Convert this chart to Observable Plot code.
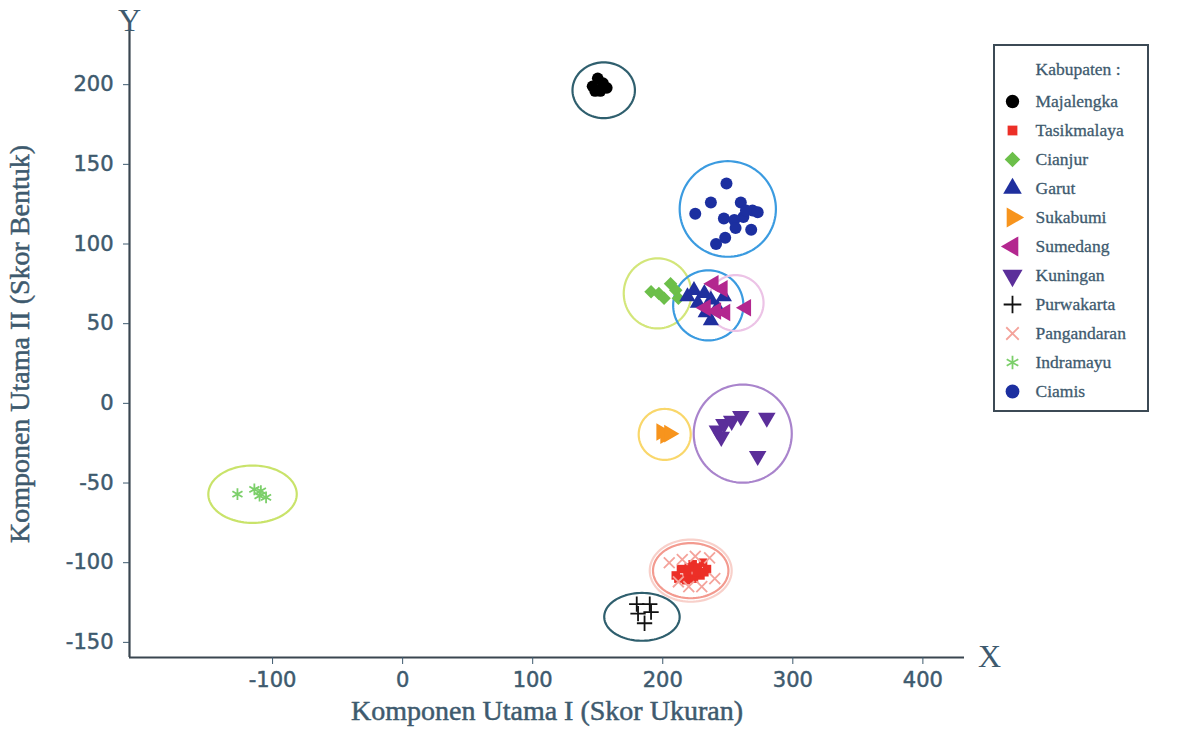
<!DOCTYPE html>
<html><head><meta charset="utf-8">
<script src="https://cdn.jsdelivr.net/npm/d3@7"></script>
<script src="https://cdn.jsdelivr.net/npm/@observablehq/plot@0.6"></script>
<style>
body{margin:0;background:#fff;}
#wrap{position:relative;width:1178px;height:742px;overflow:hidden;}
#chart{position:absolute;left:0;top:0;}
#legend{position:absolute;left:993px;top:44px;border:2px solid #3c4a55;background:#fff;line-height:0;}
</style></head><body><div id="wrap"><div id="chart"></div><div id="legend"></div></div>
<script>
// ---- categories & styles
const groups = ["Majalengka","Tasikmalaya","Cianjur","Garut","Sukabumi","Sumedang","Kuningan","Purwakarta","Pangandaran","Indramayu","Ciamis"];
const groupColors = ["#000000","#ec2f27","#6cbf4a","#1f2f9e","#f7941d","#b3278f","#5b2e9a","#111111","#f4a39b","#7ccf6a","#1c2fa0"];
const groupSymbols = ["circle","square","square","triangle","triangle","triangle","triangle","plus","times","asterisk","circle"];
const groupRotate = [0,0,45,0,90,-90,180,0,0,0,0];
const groupR = [5.8,4.8,5.4,6,6.5,6.5,6.5,5,5,5.5,6];
const strokeSymbols = ["plus","times","asterisk"];

// ---- point values (Komponen Utama I, Komponen Utama II)
const majalengkaX = [150,146,157,152,154,148];
const majalengkaY = [204,199,198,196,201,196];
const tasikmalayaX = [210,214,219,223,227,231,234,229,224,218,212,232,226,220];
const tasikmalayaY = [-108,-104,-106,-101,-103,-100,-104,-108,-110,-111,-110,-106,-106,-103];
const cianjurX = [191,197,201,206,210,212];
const cianjurY = [70,69,66,75,71,66];
const garutX = [219,224,227,232,237,233,242,247,237];
const garutY = [67,71,63,69,65,57,60,67,52];
const sukabumiX = [199,202,205];
const sukabumiY = [-18,-20,-19];
const sumedangX = [239,246,233,241,248,264];
const sumedangY = [75,72,60,58,57,60];
const kuninganX = [242,247,253,260,245,280,273];
const kuninganY = [-17,-13,-11,-8,-21,-9,-33];
const purwakartaX = [180,181,190,191,186];
const purwakartaY = [-126,-132,-126,-131,-138];
const pangandaranX = [205,212,220,236,240,230,215,225];
const pangandaranY = [-100,-112,-115,-97,-110,-115,-98,-96];
const indramayuX = [-127,-114,-110,-105,-109];
const indramayuY = [-57,-54,-58,-59,-55];
const ciamisX = [249,237,225,260,269,247,255,262,268,256,248,241,273,264];
const ciamisY = [138,126,119,126,121,116,115,117,109,110,104,100,120,121];

const seriesX = [majalengkaX,tasikmalayaX,cianjurX,garutX,sukabumiX,sumedangX,kuninganX,purwakartaX,pangandaranX,indramayuX,ciamisX];
const seriesY = [majalengkaY,tasikmalayaY,cianjurY,garutY,sukabumiY,sumedangY,kuninganY,purwakartaY,pangandaranY,indramayuY,ciamisY];

// ---- cluster ellipses (data units)
const ellipseNames = ["Majalengka","Ciamis","Cianjur","Garut","Sumedang","Sukabumi","Kuningan","Indramayu","Pangandaran","Tasikmalaya","Purwakarta"];
const ellipseCX = [154.6,250,196,235,256,201.5,261.5,-115.4,221.5,221.5,184];
const ellipseCY = [196.5,122,69,61.5,63,-19.5,-19,-57,-105,-105,-134];
const ellipseRX = [24,37,26,27,21.5,20,37.7,34,31.5,29,29];
const ellipseRY = [17.5,30,22,22,17.5,16,30.8,18,19.5,17.3,15];
const ellipseColors = ["#2f5f6e","#3b9be0","#d3e67a","#3b9be0","#ecc3e6","#f9d76b","#a984cc","#c9e36a","#f8d0ca","#f39a8f","#2f5f6e"];

const xTicks = [-100,0,100,200,300,400];
const yTicks = [-150,-100,-50,0,50,100,150,200];

const textColor = "#3e5a6e";
const axisColor = "#3a4650";

function ellipsePoints(cx, cy, rx, ry) {
  return d3.range(0, 97).map(k => {
    const t = k / 96 * 2 * Math.PI;
    return {x: cx + rx * Math.cos(t), y: cy + ry * Math.sin(t)};
  });
}

const ellipseMarks = ellipseNames.map((n, i) =>
  Plot.line(ellipsePoints(ellipseCX[i], ellipseCY[i], ellipseRX[i], ellipseRY[i]),
    {x: "x", y: "y", stroke: ellipseColors[i], strokeWidth: 2.2}));

function dotMark(i, data, xAcc, yAcc, scale = 1) {
  const isStroke = strokeSymbols.includes(groupSymbols[i]);
  return Plot.dot(data, {
    x: xAcc, y: yAcc,
    symbol: groupSymbols[i],
    r: groupR[i] * scale,
    rotate: groupRotate[i],
    fill: isStroke ? "none" : groupColors[i],
    stroke: isStroke ? groupColors[i] : "none",
    strokeWidth: isStroke ? 1.8 : 0
  });
}

const pointMarks = groups.map((g, i) => {
  const pts = seriesX[i].map((x, j) => ({group: g, x, y: seriesY[i][j]}));
  return dotMark(i, pts, "x", "y");
});

const xMin = -210, xMax = 432, yMin = -159.5, yMax = 234;
const fmt = d => String(d);

const chart = Plot.plot({
  width: 1178, height: 742,
  marginLeft: 129, marginRight: 214, marginTop: 30, marginBottom: 85,
  x: {domain: [xMin, xMax]},
  y: {domain: [yMin, yMax]},
  style: {fontFamily: "DejaVu Sans", background: "transparent", overflow: "visible"},
  marks: [
    ...ellipseMarks,
    ...pointMarks,
    Plot.ruleY([yMin], {stroke: axisColor, strokeWidth: 2.2}),
    Plot.ruleX([xMin], {stroke: axisColor, strokeWidth: 2.2}),
    Plot.axisX({ticks: xTicks, tickSize: 7, tickPadding: 8, fontSize: 21, color: textColor, label: null, tickFormat: fmt, textStroke: textColor, textStrokeWidth: 0.5}),
    Plot.axisY({ticks: yTicks, tickSize: 6, tickPadding: 10, fontSize: 21, color: textColor, label: null, tickFormat: fmt, textStroke: textColor, textStrokeWidth: 0.5}),
    Plot.text(["Komponen Utama I (Skor Ukuran)"], {frameAnchor: "bottom", dy: 62, fontSize: 28, fontFamily: "Liberation Serif", fill: textColor, stroke: textColor, strokeWidth: 0.5}),
    Plot.text(["Komponen Utama II (Skor Bentuk)"], {frameAnchor: "left", textAnchor: "middle", lineAnchor: "middle", dx: -109, rotate: -90, fontSize: 28, fontFamily: "Liberation Serif", fill: textColor, stroke: textColor, strokeWidth: 0.5}),
    Plot.text(["Y"], {frameAnchor: "top-left", textAnchor: "middle", lineAnchor: "middle", dy: -10, fontSize: 32, fontFamily: "Liberation Serif", fill: textColor}),
    Plot.text(["X"], {frameAnchor: "bottom-right", textAnchor: "middle", lineAnchor: "middle", dx: 25, dy: -1, fontSize: 32, fontFamily: "Liberation Serif", fill: textColor})
  ]
});
document.getElementById("chart").append(chart);

// ---- legend
const legendMarks = groups.map((g, i) => dotMark(i, [g], () => 17, d => d, 1.15));
const legend = Plot.plot({
  width: 152, height: 364,
  marginLeft: 0, marginRight: 0, marginTop: 51, marginBottom: 16,
  x: {domain: [0, 152], axis: null},
  y: {type: "point", domain: groups, padding: 0, axis: null},
  style: {fontFamily: "Liberation Serif", background: "#fff"},
  marks: [
    ...legendMarks,
    Plot.text(groups, {x: () => 40, y: d => d, text: d => d, textAnchor: "start", fontSize: 17.5, fill: textColor, stroke: textColor, strokeWidth: 0.3}),
    Plot.text(["Kabupaten :"], {frameAnchor: "top-left", dx: 40, dy: -28, textAnchor: "start", lineAnchor: "middle", fontSize: 17.5, fill: textColor, stroke: textColor, strokeWidth: 0.3})
  ]
});
document.getElementById("legend").append(legend);
</script>
</body></html>
